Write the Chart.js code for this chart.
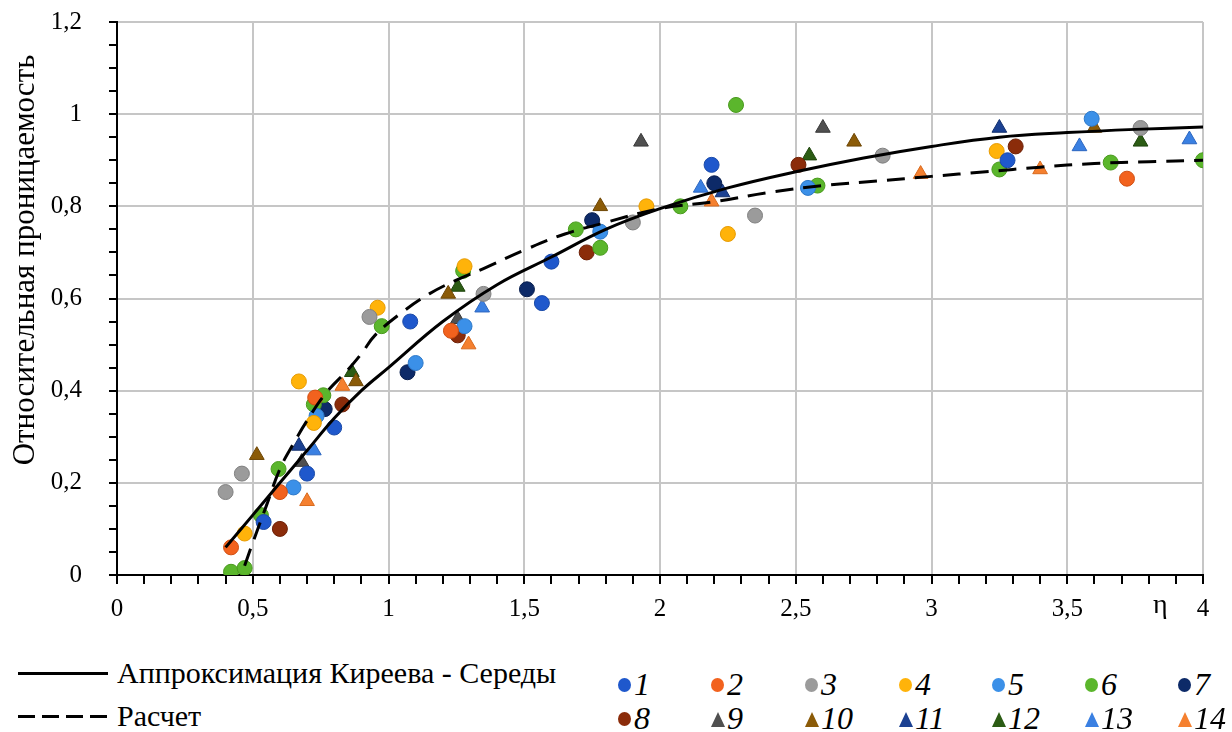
<!DOCTYPE html>
<html lang="ru">
<head>
<meta charset="utf-8">
<script src="https://cdn.jsdelivr.net/npm/chart.js@4/dist/chart.umd.min.js"></script>
<style>
  body { margin: 0; background: #fff; }
  #wrap { position: relative; width: 1232px; height: 732px; overflow: hidden; background: #fff; font-family: "Liberation Serif", "Times New Roman", Times, "DejaVu Serif", "Noto Serif", serif; color: #000; }
  #chart { position: absolute; left: 0; top: -20px; }
  .abs { position: absolute; white-space: nowrap; }
  .txt { font-size: 30px; line-height: 36px; }
  .num { font-size: 32px; line-height: 36px; font-style: italic; }
  .circ { width: 13px; height: 14px; border-radius: 50%; }
  .tri { width: 14px; height: 15px; clip-path: polygon(50% 0, 100% 100%, 0 100%); }
</style>
</head>
<body>
<div id="wrap">
  <canvas id="chart" width="1232" height="660"></canvas>
  <div class="abs" style="left:1153px; top:588px; font-size:28px;">η</div>
  <div id="legend"></div>
</div>
<script>
// Названия серий (легенда)
const seriesNames = ['1', '2', '3', '4', '5', '6', '7', '8', '9', '10', '11', '12', '13', '14'];

// Экспериментальные точки [η, относительная проницаемость]
const series1 = [[0.54, 0.115], [0.70, 0.22], [0.80, 0.32], [1.08, 0.55], [1.565, 0.59], [1.60, 0.68], [2.19, 0.89], [3.28, 0.90]];
const series2 = [[0.42, 0.06], [0.60, 0.18], [0.73, 0.385], [1.23, 0.53], [3.72, 0.86]];
const series3 = [[0.40, 0.18], [0.46, 0.22], [0.93, 0.56], [1.35, 0.61], [1.90, 0.765], [2.35, 0.78], [2.82, 0.91], [3.77, 0.97]];
const series4 = [[0.47, 0.09], [0.67, 0.42], [0.725, 0.33], [0.96, 0.58], [1.28, 0.67], [1.95, 0.80], [2.25, 0.74], [3.24, 0.92]];
const series5 = [[0.65, 0.19], [0.735, 0.345], [1.10, 0.46], [1.28, 0.54], [1.78, 0.745], [2.545, 0.84], [3.59, 0.99]];
const series6 = [[0.42, 0.007], [0.47, 0.015], [0.53, 0.13], [0.595, 0.23], [0.725, 0.37], [0.76, 0.39], [0.975, 0.54], [1.275, 0.66], [1.69, 0.75], [1.78, 0.71], [2.075, 0.80], [2.28, 1.02], [2.58, 0.845], [3.25, 0.88], [3.66, 0.895], [4.0, 0.90]];
const series7 = [[0.765, 0.36], [1.07, 0.44], [1.51, 0.62], [1.75, 0.77], [2.20, 0.85]];
const series8 = [[0.60, 0.10], [0.83, 0.37], [1.255, 0.52], [1.73, 0.70], [2.51, 0.89], [3.31, 0.93]];
const series9 = [[0.68, 0.245], [1.255, 0.555], [1.93, 0.94], [2.60, 0.97]];
const series10 = [[0.515, 0.26], [0.88, 0.42], [1.22, 0.61], [1.78, 0.80], [2.715, 0.94], [3.60, 0.97]];
const series11 = [[0.67, 0.28], [2.23, 0.83], [3.25, 0.97]];
const series12 = [[0.865, 0.44], [1.255, 0.625], [2.55, 0.91], [3.77, 0.94]];
const series13 = [[0.725, 0.27], [1.345, 0.58], [2.15, 0.84], [3.545, 0.93], [3.95, 0.945]];
const series14 = [[0.70, 0.16], [0.83, 0.41], [1.295, 0.50], [2.19, 0.81], [2.96, 0.87], [3.40, 0.88]];

// Аппроксимация Киреева - Середы (сплошная)
const approxX = [0.4, 0.5, 0.6, 0.7, 0.8, 0.9, 1.0, 1.2, 1.4, 1.6, 1.8, 2.0, 2.25, 2.5, 2.75, 3.0, 3.25, 3.5, 3.75, 4.0];
const approxY = [0.06, 0.13, 0.20, 0.27, 0.34, 0.40, 0.45, 0.55, 0.63, 0.69, 0.75, 0.795, 0.84, 0.875, 0.905, 0.93, 0.95, 0.96, 0.967, 0.972];

// Расчет (пунктир)
const calcX = [0.47, 0.5, 0.55, 0.6, 0.65, 0.7, 0.77, 0.85, 0.9, 0.95, 1.05, 1.15, 1.25, 1.35, 1.5, 1.65, 1.8, 2.0, 2.2, 2.4, 2.6, 2.8, 3.0, 3.2, 3.4, 3.6, 3.8, 4.0];
const calcY = [0.02, 0.07, 0.15, 0.23, 0.285, 0.335, 0.395, 0.445, 0.48, 0.52, 0.57, 0.61, 0.64, 0.665, 0.705, 0.74, 0.765, 0.795, 0.81, 0.83, 0.845, 0.855, 0.865, 0.875, 0.885, 0.893, 0.897, 0.90];

const allSeries = [series1, series2, series3, series4, series5, series6, series7, series8, series9, series10, series11, series12, series13, series14];

// стили
const colors = ['#1f58cc', '#f2621e', '#9b9b9b', '#ffb30a', '#3b90e8', '#5bb62c', '#0d2a68', '#8b2c0a', '#505050', '#8b5b08', '#1b4192', '#2c5c14', '#3a80e2', '#f5802f'];
const borders = ['#1a4aa8', '#d04f12', '#808080', '#e69a00', '#2d78c8', '#4a9a1e', '#081e4e', '#6e2006', '#383838', '#6e4604', '#12306e', '#1e440c', '#2c66c0', '#d86a1e'];
const styles = ['circle', 'circle', 'circle', 'circle', 'circle', 'circle', 'circle', 'circle', 'triangle', 'triangle', 'triangle', 'triangle', 'triangle', 'triangle'];

const SERIF = '"Liberation Serif", "Times New Roman", Times, "DejaVu Serif", serif';
const fmt = v => String(Math.round(v * 10) / 10).replace('.', ',');
const isMult = (v, step) => Math.abs(v / step - Math.round(v / step)) < 1e-6;

const datasets = [
    {
        label: 'Аппроксимация Киреева - Середы',
        data: approxX.map((x, i) => ({ x: x, y: approxY[i] })),
        showLine: true,
        borderColor: '#000',
        borderWidth: 3,
        pointRadius: 0,
        tension: 0.4
    },
    {
        label: 'Расчет',
        data: calcX.map((x, i) => ({ x: x, y: calcY[i] })),
        showLine: true,
        borderColor: '#000',
        borderWidth: 3,
        borderDash: [18, 10],
        pointRadius: 0,
        tension: 0.4
    }
];
allSeries.forEach((s, i) => {
    datasets.push({
        label: seriesNames[i],
        data: s.map(p => ({ x: p[0], y: p[1] })),
        pointStyle: styles[i],
        pointRadius: styles[i] === 'circle' ? 7.5 : 8.5,
        backgroundColor: colors[i],
        borderColor: borders[i],
        borderWidth: 1
    });
});

// подпись оси Y
const yTitle = {
    id: 'yTitle',
    afterDraw(chart) {
        const ctx = chart.ctx;
        ctx.save();
        ctx.translate(26, 280);
        ctx.rotate(-Math.PI / 2);
        ctx.font = '31px ' + SERIF;
        ctx.fillStyle = '#000';
        ctx.textAlign = 'center';
        ctx.textBaseline = 'middle';
        ctx.fillText('Относительная проницаемость', 0, 0);
        ctx.restore();
    }
};

new Chart(document.getElementById('chart'), {
    type: 'scatter',
    data: { datasets: datasets },
    plugins: [yTitle],
    options: {
        responsive: false,
        animation: false,
        layout: { padding: { left: 0, right: 29, top: 2, bottom: 0 } },
        plugins: { legend: { display: false }, tooltip: { enabled: false } },
        scales: {
            x: {
                type: 'linear',
                min: 0,
                max: 4,
                afterFit: s => { s.height = 65; },
                border: { color: '#000', width: 2 },
                grid: {
                    color: c => (c.tick && isMult(c.tick.value, 0.5)) ? '#c6c6c6' : 'rgba(0,0,0,0)',
                    lineWidth: 2,
                    tickColor: '#000',
                    tickWidth: 2,
                    tickLength: 9
                },
                ticks: {
                    stepSize: 0.1,
                    maxTicksLimit: 100,
                    autoSkip: false,
                    maxRotation: 0,
                    padding: 10,
                    color: '#000',
                    font: { family: SERIF, size: 25 },
                    callback: v => isMult(v, 0.5) ? fmt(v) : ''
                }
            },
            y: {
                type: 'linear',
                min: 0,
                max: 1.2,
                afterFit: s => { s.width = 117; },
                border: { color: '#000', width: 2 },
                grid: {
                    color: c => (c.tick && isMult(c.tick.value, 0.2)) ? '#c6c6c6' : 'rgba(0,0,0,0)',
                    lineWidth: 2,
                    tickColor: '#000',
                    tickWidth: 2,
                    tickLength: 8
                },
                ticks: {
                    stepSize: 0.05,
                    maxTicksLimit: 100,
                    autoSkip: false,
                    padding: 27,
                    color: '#000',
                    font: { family: SERIF, size: 25 },
                    callback: v => isMult(v, 0.2) ? fmt(v) : ''
                }
            }
        }
    }
});

// легенда
const legend = document.getElementById('legend');
let html = '';
html += '<div class="abs" style="left:18px;top:672px;width:90px;height:3px;background:#000"></div>';
html += '<div class="abs txt" style="left:117px;top:655px">Аппроксимация Киреева - Середы</div>';
html += '<div class="abs" style="left:18px;top:715px;width:90px;height:3px;background:repeating-linear-gradient(to right,#000 0 17px,transparent 17px 24px)"></div>';
html += '<div class="abs txt" style="left:117px;top:698px">Расчет</div>';
const colX = [625, 718, 812, 906, 999, 1092, 1185];
const rowY = [685, 719];
seriesNames.forEach((name, i) => {
    const cx = colX[i % 7];
    const cy = rowY[Math.floor(i / 7)];
    const cls = styles[i] === 'circle' ? 'circ' : 'tri';
    html += '<div class="abs ' + cls + '" style="left:' + (cx - 7) + 'px;top:' + (cy - 7) + 'px;background:' + colors[i] + '"></div>';
    html += '<div class="abs num" style="left:' + (cx + 9) + 'px;top:' + (cy - 19) + 'px">' + name + '</div>';
});
legend.innerHTML = html;
</script>
</body>
</html>
